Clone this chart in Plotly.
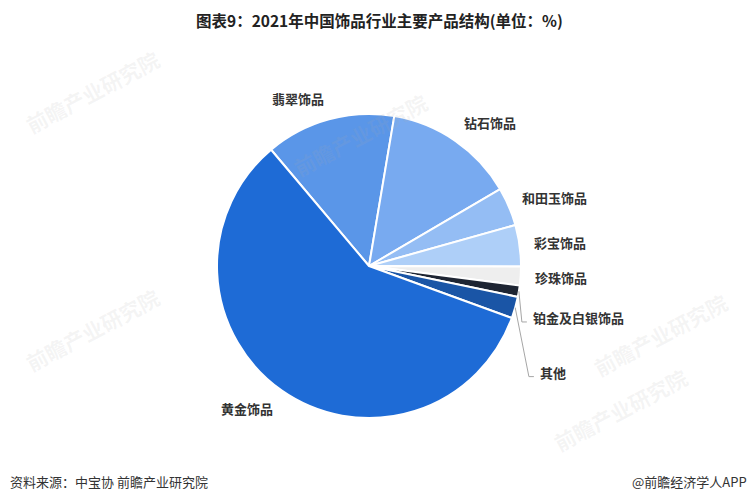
import math
import plotly.graph_objects as go

categories = ["翡翠饰品", "钻石饰品", "和田玉饰品", "彩宝饰品", "珍珠饰品", "铂金及白银饰品", "其他", "黄金饰品"]
values = [13.8, 13.9, 4.1, 4.4, 2.0, 1.2, 2.3, 58.3]
colors = ["#5A96E8", "#78AAF0", "#94BDF4", "#AECFF8", "#EEEEEE", "#1E2533", "#1A55A6", "#1E6BD6"]
# extra push (px) for crowded small-slice labels, which get leader lines
label_push_y = [0, 0, 0, 0, 0, 23, 59, 0]
label_push_x = [0, 0, 0, 0, 0, 0, 11, 0]

W, H = 755, 503
cx, cy, r = 369, 266, 152
rotation = -40.1

fig = go.Figure(go.Pie(
    labels=categories,
    values=values,
    sort=False,
    direction="clockwise",
    rotation=rotation,
    marker=dict(colors=colors, line=dict(color="white", width=2)),
    textinfo="none",
    automargin=False,
    showlegend=False,
    hoverinfo="label+value",
    domain=dict(x=[(cx - r) / W, (cx + r) / W], y=[(H - cy - r) / H, (H - cy + r) / H]),
))

annotations = []
shapes = []

# faint watermarks
for wx, wy in [(92, 92), (360, 135), (92, 330), (660, 335), (620, 410)]:
    annotations.append(dict(
        text="<b>前瞻产业研究院</b>", x=wx / W, y=1 - wy / H, xref="paper", yref="paper",
        showarrow=False, textangle=-28, xanchor="center", yanchor="middle",
        font=dict(family="Noto Sans CJK SC", size=21, color="rgba(170,170,170,0.13)"),
    ))

total = sum(values)
cum = 0.0
for name, v, pdx, pdy in zip(categories, values, label_push_x, label_push_y):
    mid = math.radians(rotation + (cum + v / 2) / total * 360)
    cum += v
    s, c = math.sin(mid), -math.cos(mid)  # screen: x right, y down
    lx = cx + r * 1.08 * s + pdx
    ly = cy + r * 1.145 * c + pdy
    anchor = "left" if s > 0 else "right"
    if pdy:
        ex, ey = cx + r * s, cy + r * c
        tx = lx - 4
        shapes.append(dict(
            type="path", xref="paper", yref="paper",
            path="M {} {} L {} {} L {} {}".format(ex / W, 1 - ey / H, (tx - 5) / W, 1 - (ly + 4) / H,
                                                 tx / W, 1 - (ly + 4) / H),
            line=dict(color="#A6A6A6", width=1),
        ))
    annotations.append(dict(
        text="<b>{}</b>".format(name), x=lx / W, y=1 - ly / H, xref="paper", yref="paper",
        showarrow=False, xanchor=anchor, yanchor="middle",
        font=dict(family="Noto Sans CJK SC", size=13, color="#333333"),
    ))

annotations += [
    dict(text="<b>图表9：2021年中国饰品行业主要产品结构(单位：%)</b>", x=0.503, y=1 - 20 / H,
         xref="paper", yref="paper", showarrow=False, xanchor="center", yanchor="middle",
         font=dict(size=15.5, color="#222222")),
    dict(text="资料来源：中宝协 前瞻产业研究院", x=8 / W, y=1 - 481 / H,
         xref="paper", yref="paper", showarrow=False, xanchor="left", yanchor="middle",
         font=dict(size=13, color="#333333")),
    dict(text="@前瞻经济学人APP", x=1 - 6 / W, y=1 - 481 / H,
         xref="paper", yref="paper", showarrow=False, xanchor="right", yanchor="middle",
         font=dict(size=13, color="#333333")),
]

fig.update_layout(
    width=W, height=H,
    margin=dict(l=0, r=0, t=0, b=0),
    paper_bgcolor="white",
    plot_bgcolor="white",
    font=dict(family="Noto Sans CJK SC", color="#333333"),
    annotations=annotations,
    shapes=shapes,
)

fig.write_html("out.html", config={"displayModeBar": False},
               post_script="document.body.style.margin='0';")
